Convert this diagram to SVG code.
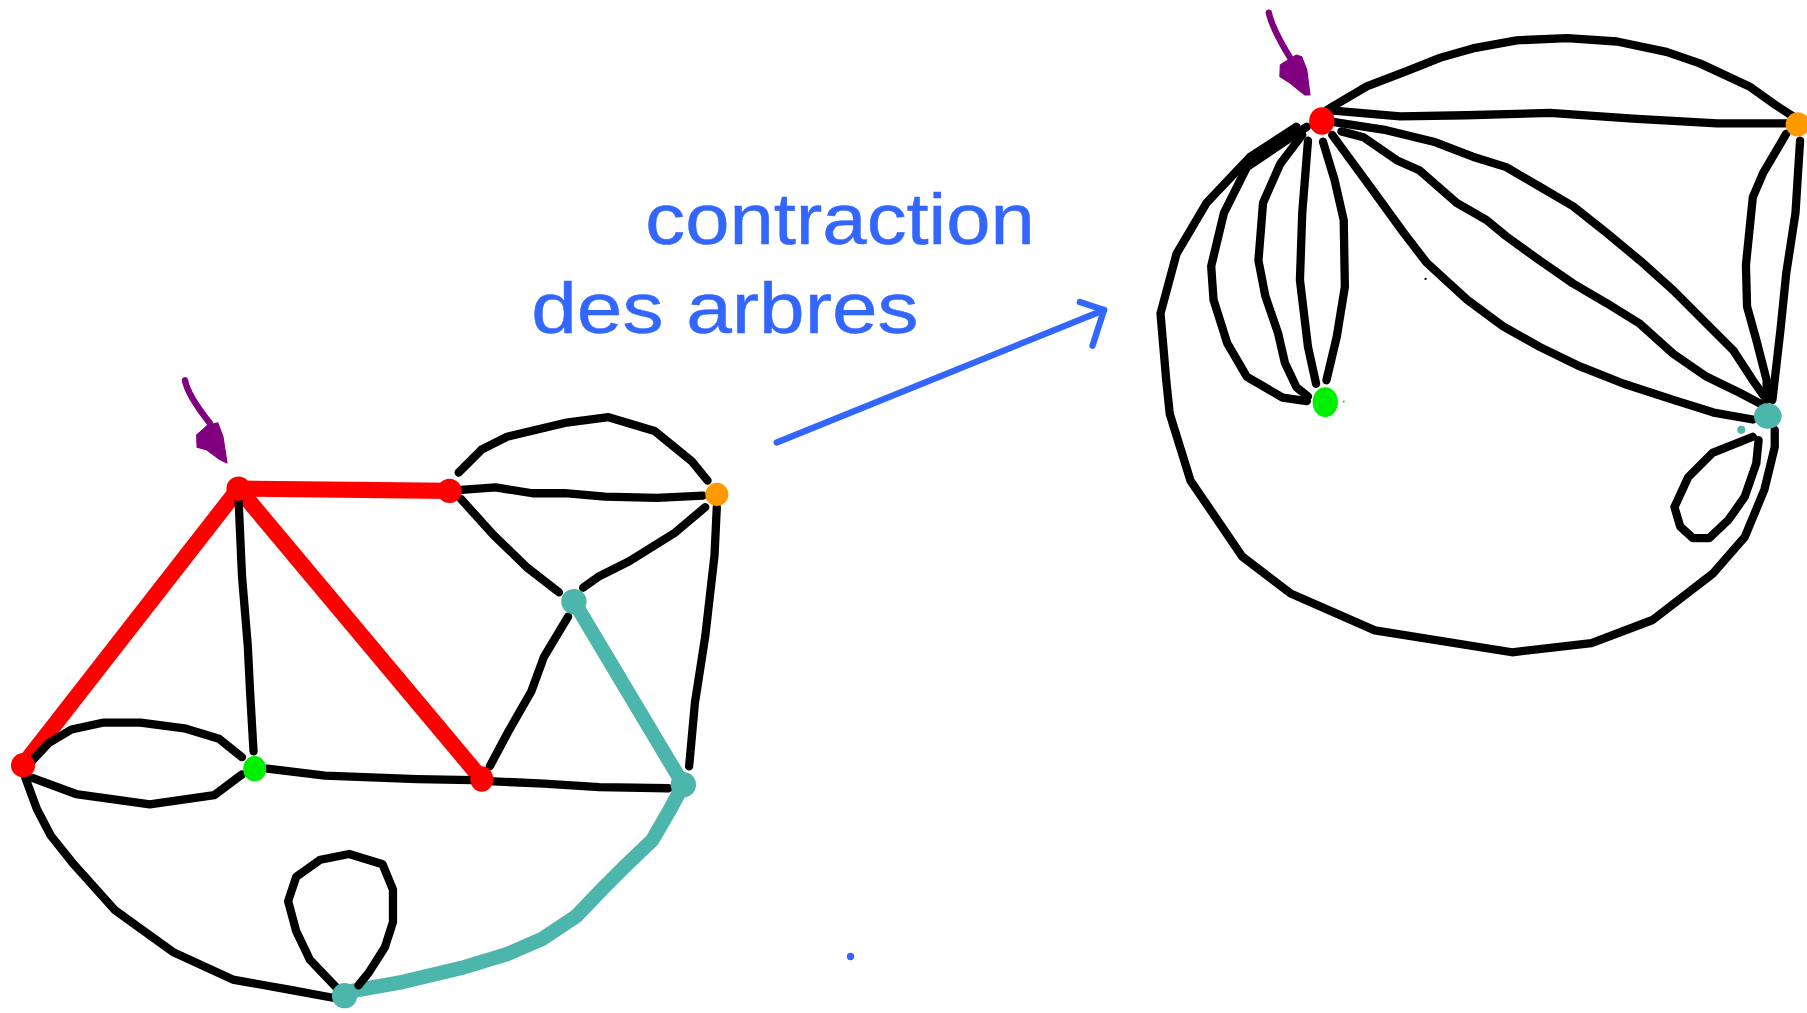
<svg xmlns="http://www.w3.org/2000/svg" width="1807" height="1013" viewBox="0 0 1807 1013">
<style>
.e{fill:none;stroke:#000;stroke-width:7.2;stroke-linecap:round;stroke-linejoin:round}
.red{fill:none;stroke:#ff0000;stroke-width:14;stroke-linecap:round;stroke-linejoin:round}
.teal{fill:none;stroke:#4db6ac;stroke-width:12.5;stroke-linecap:round;stroke-linejoin:round}
.blue{fill:none;stroke:#3366ff;stroke-width:5.5;stroke-linecap:round;stroke-linejoin:round}
.pur{fill:none;stroke:#800080;stroke-width:5.5;stroke-linecap:round}
.purh{fill:#800080;stroke:#800080;stroke-width:1;stroke-linejoin:round}
.lbl{font-family:"Liberation Sans","Noto Sans",sans-serif;fill:#3366ff;stroke:#3366ff;stroke-width:0.4;stroke-linejoin:round;font-size:62px}
</style>
<rect width="1807" height="1013" fill="#fff"/>
<g transform="scale(1.15242)">
<g id="connectors">
<!-- left graph: red tree -->
<path class="red" d="M207,424 L390,426"/>
<path class="red" d="M207,424 L20,664"/>
<path class="red" d="M207,424 L418,676"/>
<!-- teal tree -->
<path class="teal" d="M498,522 L593,681"/>
<path class="teal" d="M593,681 L580,705 L566,729 L542,752 L522,772 L500,795 L470,815 L440,828 L400,840 L350,852 L305,860"/>
<!-- black edges left -->
<path class="e" d="M207,433 L210,500 L215,560 L217,600 L220,652"/>
<path class="e" d="M400,425 L430,423 L462,428 L490,428 L525,431 L570,432 L610,430"/>
<path class="e" d="M398,410 L418,390 L440,379 L490,367 L528,362 L568,374 L600,400 L614,417"/>
<path class="e" d="M400,433 L428,464 L458,493 L485,514"/>
<path class="e" d="M612,440 L586,462 L546,487 L520,500 L506,510"/>
<path class="e" d="M622,440 L620,482 L612,552 L603,610 L598,665"/>
<path class="e" d="M493,535 L472,570 L461,600 L441,635 L425,665"/>
<path class="e" d="M28,660 L42,645 L62,633 L90,627 L122,627 L160,632 L190,641 L210,657"/>
<path class="e" d="M28,675 L66,689 L130,698 L186,690 L210,672"/>
<path class="e" d="M232,667 L282,673 L362,676 L410,677"/>
<path class="e" d="M428,678 L472,680 L520,683 L580,684"/>
<path class="e" d="M22,675 L32,702 L44,725 L64,750 L100,790 L150,826 L202,850 L252,859 L290,866"/>
<path class="e" d="M292,857 L269,833 L257,808 L250,782 L257,761 L278,746 L303,741 L332,750 L341,772 L341,800 L334,822 L320,844 L311,855"/>
<!-- right graph: R-O -->
<path class="e" d="M1152,95 L1186,75 L1220,62 L1250,50 L1278,42 L1316,35 L1360,33 L1403,36 L1446,45 L1475,55 L1518,75 L1539,90 L1556,101"/>
<path class="e" d="M1157,96 L1215,101 L1272,100 L1345,98 L1417,103 L1490,107 L1553,107"/>
<!-- O-T -->
<path class="e" d="M1550,116 L1530,150 L1521,171 L1515,230 L1516,266 L1524,295 L1533,330 L1533,341"/>
<path class="e" d="M1562,122 L1558,185 L1550,237 L1545,286 L1538,347"/>
<!-- R-T -->
<path class="e" d="M1158,106 L1203,113 L1244,123 L1278,136 L1307,145 L1336,162 L1365,179 L1394,202 L1423,226 L1452,252 L1481,281 L1504,304 L1521,330 L1533,347"/>
<path class="e" d="M1164,114 L1183,119 L1212,139 L1232,148 L1264,176 L1290,191 L1307,205 L1336,226 L1365,246 L1394,263 L1423,281 L1452,307 L1481,327 L1510,341 L1527,350"/>
<path class="e" d="M1156,117 L1189,162 L1218,202 L1238,228 L1273,260 L1304,283 L1336,301 L1371,318 L1409,333 L1452,347 L1487,358 L1521,364"/>
<!-- R-Gr -->
<path class="e" d="M1135,122 L1130,185 L1128,243 L1135,301 L1142,333"/>
<path class="e" d="M1148,123 L1158,156 L1166,191 L1167,249 L1160,292 L1151,330"/>
<path class="e" d="M1130,117 L1111,142 L1096,176 L1092,226 L1098,257 L1109,289 L1115,315 L1125,336 L1135,344"/>
<path class="e" d="M1134,110 L1082,145 L1062,185 L1051,231 L1053,260 L1065,298 L1082,327 L1113,345 L1134,348"/>
<!-- R-T outer -->
<path class="e" d="M1125,110 L1085,136 L1047,176 L1021,220 L1007,272 L1012,330 L1015,359 L1033,417 L1078,483 L1120,515 L1193,547 L1312,566 L1381,558 L1434,538 L1486,498 L1514,466 L1531,425 L1540,388 L1540,373"/>
<!-- T loop -->
<path class="e" d="M1521,379 L1486,393 L1465,414 L1453,440 L1458,457 L1469,467 L1483,467 L1500,451 L1514,431 L1524,402 L1526,382"/>
<!-- blue arrow -->
<path class="blue" d="M674,384 L958,269"/>
<path class="blue" d="M958,269 L937,262"/>
<path class="blue" d="M958,269 L948,300"/>
</g>
<g id="label">
<text class="lbl" x="560" y="212" textLength="338" lengthAdjust="spacingAndGlyphs">contraction</text>
<text class="lbl" x="461" y="289" textLength="336" lengthAdjust="spacingAndGlyphs">des arbres</text>
</g>
<g id="pointers">
<path class="pur" d="M160.5,330 Q163,343 182,367"/>
<polygon class="purh" points="170.7,377.5 180.5,368.8 189,367 193.5,379 197,401.8 191,399 179.6,390.5 171,388"/>
<path class="pur" d="M1101,11 Q1104,25 1119.4,50"/>
<polygon class="purh" points="1111,56.4 1113.5,54.7 1125,47.7 1129.5,49.2 1134,60.7 1136.7,82.4 1132.4,82.4 1119.4,72 1110.6,66.5"/>
</g>
<!-- left graph nodes -->
<g id="nA"><circle cx="207" cy="424" r="10.5" fill="#ff0000"/></g>
<g id="nB"><circle cx="390" cy="426" r="10.5" fill="#ff0000"/></g>
<g id="nC"><circle cx="622" cy="429" r="10" fill="#ff9900"/></g>
<g id="nD"><circle cx="498" cy="522" r="11" fill="#4db6ac"/></g>
<g id="nE"><circle cx="20" cy="664" r="10.5" fill="#ff0000"/></g>
<g id="nG"><ellipse cx="221" cy="667" rx="10" ry="11" fill="#00ee00"/></g>
<g id="nH"><ellipse cx="418" cy="676" rx="10" ry="11" fill="#ff0000"/></g>
<g id="nI"><circle cx="593" cy="681" r="11" fill="#4db6ac"/></g>
<g id="nJ"><circle cx="299" cy="864" r="11" fill="#4db6ac"/></g>
<!-- right graph nodes -->
<g id="nR"><ellipse cx="1147" cy="105" rx="11" ry="12" fill="#ff0000"/></g>
<g id="nO"><circle cx="1560" cy="108" r="10.5" fill="#ff9900"/></g>
<g id="nGr"><ellipse cx="1150" cy="349" rx="11" ry="13" fill="#00ee00"/><circle cx="1166" cy="348.5" r="1" fill="#00ee00"/></g>
<g id="nT"><ellipse cx="1534" cy="361" rx="12" ry="11" fill="#4db6ac"/><circle cx="1511" cy="373" r="3.5" fill="#4db6ac"/></g>
<circle cx="738" cy="830" r="3.2" fill="#3366ff"/>
<circle cx="1237" cy="242" r="1" fill="#000"/>
</g>
</svg>
